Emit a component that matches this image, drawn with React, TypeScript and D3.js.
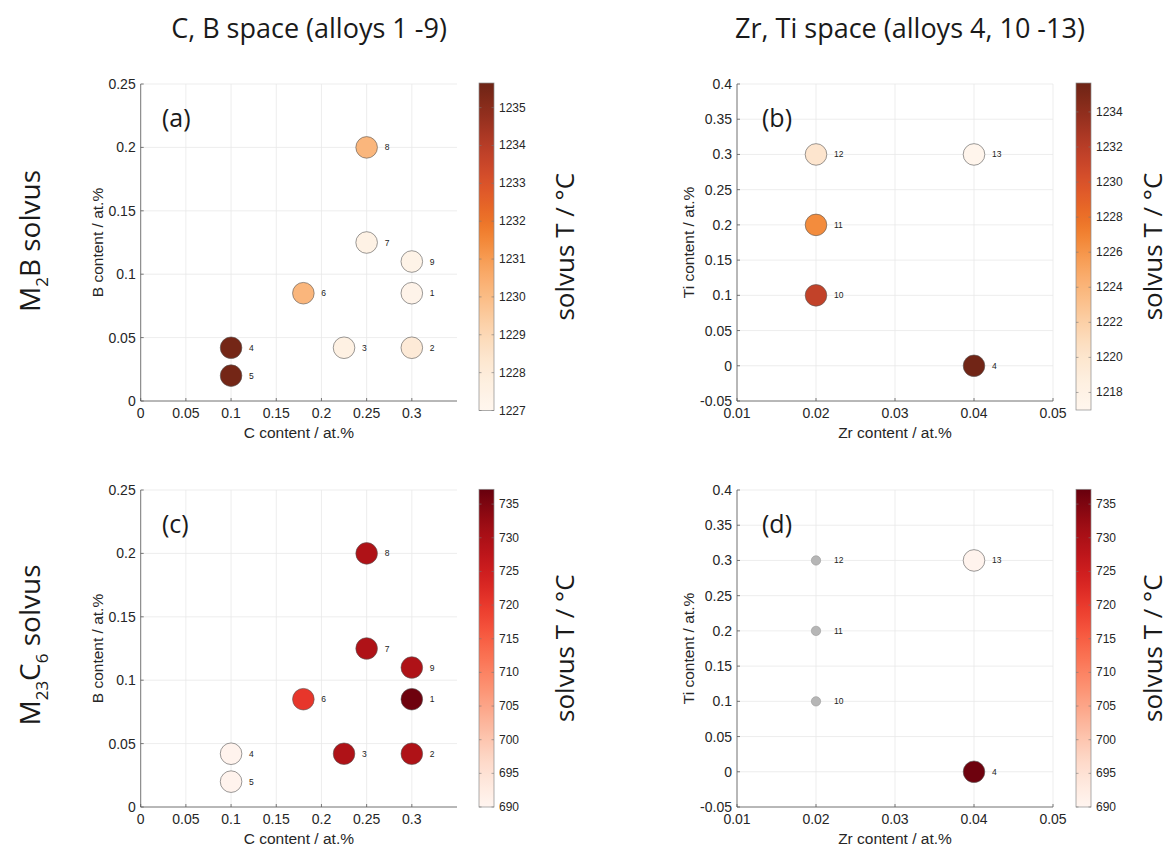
import React from "react";
import * as d3 from "d3";

// ---------- data ----------
const alloysCB = ["1", "2", "3", "4", "5", "6", "7", "8", "9"];
const cContent = [0.3, 0.3, 0.225, 0.1, 0.1, 0.18, 0.25, 0.25, 0.3];
const bContent = [0.085, 0.042, 0.042, 0.042, 0.02, 0.085, 0.125, 0.2, 0.11];
const m2bSolvusCB = [1227.3, 1228.1, 1227.6, 1235.5, 1235.5, 1230.2, 1227.5, 1230.2, 1227.4];
const m23c6SolvusCB = [736.5, 729.5, 729.5, 690.5, 690.5, 720.5, 729.5, 729.5, 729.5];

const alloysZT = ["4", "10", "11", "12", "13"];
const zrContent = [0.04, 0.02, 0.02, 0.02, 0.04];
const tiContent = [0, 0.1, 0.2, 0.3, 0.3];
const m2bSolvusZT = [1235.5, 1231.5, 1226.5, 1220.0, 1217.3];
const m23c6SolvusZT = [736.5, NaN, NaN, NaN, 690.5];

const xTicksCB = [0, 0.05, 0.1, 0.15, 0.2, 0.25, 0.3];
const yTicksCB = [0, 0.05, 0.1, 0.15, 0.2, 0.25];
const xTicksZT = [0.01, 0.02, 0.03, 0.04, 0.05];
const yTicksZT = [-0.05, 0, 0.05, 0.1, 0.15, 0.2, 0.25, 0.3, 0.35, 0.4];
const cbTicksA = [1227, 1228, 1229, 1230, 1231, 1232, 1233, 1234, 1235];
const cbTicksB = [1218, 1220, 1222, 1224, 1226, 1228, 1230, 1232, 1234];
const cbTicksCD = [690, 695, 700, 705, 710, 715, 720, 725, 730, 735];

const domainA: [number, number] = [1227, 1235.65];
const domainB: [number, number] = [1217, 1235.65];
const domainCD: [number, number] = [690, 737.2];

// ---------- styles ----------
const orangeStops = ["#fff6ee", "#fdeedd", "#fcdcbc", "#fbbf8a", "#f9a45f", "#f07a22", "#e2582a", "#c4412b", "#97301e", "#6e2415"];
const interpOrange = d3.interpolateRgbBasis(orangeStops);
const interpRed = d3.interpolateReds;

const tickFont = "'Liberation Sans', Arial, Helvetica, sans-serif";
const bigFont = "'Open Sans', 'Noto Sans', sans-serif";

const fmt = (v: number) => String(+v.toFixed(4));

type PanelProps = {
  id: string;
  left: number; top: number; right: number; bottom: number;
  xDomain: [number, number]; yDomain: [number, number];
  xTicks: number[]; yTicks: number[];
  xs: number[]; ys: number[]; vals: number[]; names: string[];
  cDomain: [number, number]; interp: (t: number) => string;
  cbLeft: number; cbTop: number; cbBottom: number; cbTicks: number[];
  cbLabelX: number;
  letter: string; letterX: number; letterY: number;
  xLabel: string; yLabel: string; yLabelX: number;
};

function Panel(p: PanelProps) {
  const x = d3.scaleLinear().domain(p.xDomain).range([p.left, p.right]);
  const y = d3.scaleLinear().domain(p.yDomain).range([p.bottom, p.top]);
  const color = d3.scaleSequential(p.interp).domain(p.cDomain);
  const cbW = 15;
  const cy = d3.scaleLinear().domain(p.cDomain).range([p.cbBottom, p.cbTop]);
  const gradStops = d3.range(0, 1.0001, 0.02);
  const axisColor = "#5a5a5a";
  return (
    <g>
      <defs>
        <linearGradient id={`grad-${p.id}`} x1="0" y1="1" x2="0" y2="0">
          {gradStops.map((t, i) => (
            <stop key={i} offset={t} stopColor={p.interp(t)} />
          ))}
        </linearGradient>
      </defs>
      {/* grid */}
      {p.xTicks.map((t, i) => (
        <line key={"gx" + i} x1={x(t)} x2={x(t)} y1={p.top} y2={p.bottom} stroke="#e9e9e9" strokeWidth={0.8} />
      ))}
      {p.yTicks.map((t, i) => (
        <line key={"gy" + i} x1={p.left} x2={p.right} y1={y(t)} y2={y(t)} stroke="#e9e9e9" strokeWidth={0.8} />
      ))}
      {/* axes */}
      <line x1={p.left} x2={p.left} y1={p.top} y2={p.bottom} stroke={axisColor} strokeWidth={0.8} />
      <line x1={p.left} x2={p.right} y1={p.bottom} y2={p.bottom} stroke={axisColor} strokeWidth={0.8} />
      {p.xTicks.map((t, i) => (
        <g key={"xt" + i}>
          <line x1={x(t)} x2={x(t)} y1={p.bottom} y2={p.bottom - 3} stroke={axisColor} strokeWidth={0.8} />
          <text x={x(t)} y={p.bottom + 17} textAnchor="middle" fontFamily={tickFont} fontSize={14} fill="#262626">{fmt(t)}</text>
        </g>
      ))}
      {p.yTicks.map((t, i) => (
        <g key={"yt" + i}>
          <line x1={p.left} x2={p.left + 3} y1={y(t)} y2={y(t)} stroke={axisColor} strokeWidth={0.8} />
          <text x={p.left - 5} y={y(t) + 5} textAnchor="end" fontFamily={tickFont} fontSize={14} fill="#262626">{fmt(t)}</text>
        </g>
      ))}
      <text x={(p.left + p.right) / 2} y={p.bottom + 37} textAnchor="middle" fontFamily={tickFont} fontSize={15.5} fill="#262626">{p.xLabel}</text>
      <text transform={`translate(${p.yLabelX},${(p.top + p.bottom) / 2}) rotate(-90)`} textAnchor="middle" fontFamily={tickFont} fontSize={15.5} fill="#262626">{p.yLabel}</text>
      {/* panel letter */}
      <text x={p.letterX} y={p.letterY} fontFamily={bigFont} fontSize={25} fill="#1a1a1a">{p.letter}</text>
      {/* points */}
      {p.xs.map((xv, i) => {
        const v = p.vals[i];
        const valid = !isNaN(v);
        return (
          <g key={"pt" + i}>
            <circle cx={x(xv)} cy={y(p.ys[i])} r={valid ? 10.8 : 4.7}
              fill={valid ? color(v) : "#b6b6b6"} stroke={valid ? "#555" : "#9a9a9a"} strokeWidth={0.6} />
            <text x={x(xv) + 18} y={y(p.ys[i]) + 3} fontFamily={tickFont} fontSize={8.5} fill="#222">{p.names[i]}</text>
          </g>
        );
      })}
      {/* colorbar */}
      <rect x={p.cbLeft} y={p.cbTop} width={cbW} height={p.cbBottom - p.cbTop} fill={`url(#grad-${p.id})`} stroke="#8a8a8a" strokeWidth={0.7} />
      {p.cbTicks.map((t, i) => (
        <g key={"ct" + i}>
          <line x1={p.cbLeft} x2={p.cbLeft + 2.5} y1={cy(t)} y2={cy(t)} stroke="#777" strokeWidth={0.6} />
          <line x1={p.cbLeft + cbW - 2.5} x2={p.cbLeft + cbW} y1={cy(t)} y2={cy(t)} stroke="#777" strokeWidth={0.6} />
          <text x={p.cbLeft + cbW + 5} y={cy(t) + 4} fontFamily={tickFont} fontSize={12} fill="#262626">{t}</text>
        </g>
      ))}
      <text transform={`translate(${p.cbLabelX},${(p.cbTop + p.cbBottom) / 2}) rotate(-90)`} textAnchor="middle" fontFamily={bigFont} fontSize={26} fill="#1a1a1a">solvus T / °C</text>
    </g>
  );
}

export default function App() {
  return (
    <svg width={1172} height={850} style={{ position: "absolute", left: 0, top: 0, background: "#fff" }}>
      <rect x={0} y={0} width={1172} height={850} fill="#fff" />
      <text x={309} y={38} textAnchor="middle" fontFamily={bigFont} fontSize={27} fill="#1a1a1a">C, B space (alloys 1 -9)</text>
      <text x={910} y={38} textAnchor="middle" fontFamily={bigFont} fontSize={27} fill="#1a1a1a">Zr, Ti space (alloys 4, 10 -13)</text>
      <text transform="translate(40,241) rotate(-90)" textAnchor="middle" fontFamily={bigFont} fontSize={28} fill="#1a1a1a">
        M<tspan fontSize={17} dy={8}>2</tspan><tspan dy={-8}>B solvus</tspan>
      </text>
      <text transform="translate(40,645) rotate(-90)" textAnchor="middle" fontFamily={bigFont} fontSize={28} fill="#1a1a1a">
        M<tspan fontSize={17} dy={8}>23</tspan><tspan dy={-8}>C</tspan><tspan fontSize={17} dy={8}>6</tspan><tspan dy={-8}> solvus</tspan>
      </text>

      <Panel id="a" left={140.7} top={84} right={457} bottom={401}
        xDomain={[0, 0.35]} yDomain={[0, 0.25]} xTicks={xTicksCB} yTicks={yTicksCB}
        xs={cContent} ys={bContent} vals={m2bSolvusCB} names={alloysCB}
        cDomain={domainA} interp={interpOrange}
        cbLeft={479} cbTop={83} cbBottom={410.5} cbTicks={cbTicksA} cbLabelX={574}
        letter="(a)" letterX={162} letterY={127}
        xLabel="C content / at.%" yLabel="B content / at.%" yLabelX={103} />

      <Panel id="b" left={737} top={84} right={1053} bottom={401}
        xDomain={[0.01, 0.05]} yDomain={[-0.05, 0.4]} xTicks={xTicksZT} yTicks={yTicksZT}
        xs={zrContent} ys={tiContent} vals={m2bSolvusZT} names={alloysZT}
        cDomain={domainB} interp={interpOrange}
        cbLeft={1076} cbTop={83} cbBottom={410} cbTicks={cbTicksB} cbLabelX={1162}
        letter="(b)" letterX={762} letterY={127}
        xLabel="Zr content / at.%" yLabel="Ti content / at.%" yLabelX={694} />

      <Panel id="c" left={140.7} top={490} right={457} bottom={807}
        xDomain={[0, 0.35]} yDomain={[0, 0.25]} xTicks={xTicksCB} yTicks={yTicksCB}
        xs={cContent} ys={bContent} vals={m23c6SolvusCB} names={alloysCB}
        cDomain={domainCD} interp={interpRed}
        cbLeft={479} cbTop={489.3} cbBottom={807} cbTicks={cbTicksCD} cbLabelX={574}
        letter="(c)" letterX={162} letterY={533}
        xLabel="C content / at.%" yLabel="B content / at.%" yLabelX={103} />

      <Panel id="d" left={737} top={490} right={1053} bottom={807}
        xDomain={[0.01, 0.05]} yDomain={[-0.05, 0.4]} xTicks={xTicksZT} yTicks={yTicksZT}
        xs={zrContent} ys={tiContent} vals={m23c6SolvusZT} names={alloysZT}
        cDomain={domainCD} interp={interpRed}
        cbLeft={1076} cbTop={489.3} cbBottom={807} cbTicks={cbTicksCD} cbLabelX={1162}
        letter="(d)" letterX={762} letterY={533}
        xLabel="Zr content / at.%" yLabel="Ti content / at.%" yLabelX={694} />
    </svg>
  );
}
